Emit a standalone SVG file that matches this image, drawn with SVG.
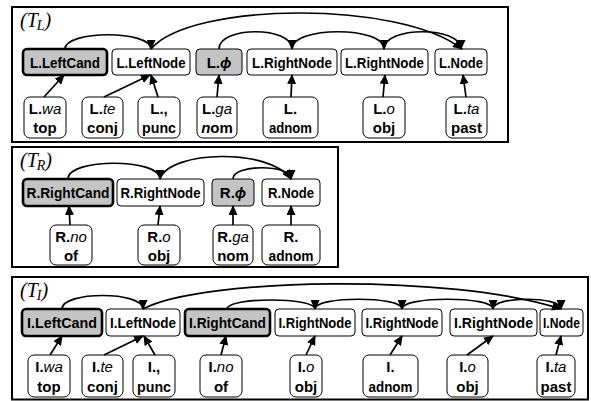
<svg xmlns="http://www.w3.org/2000/svg" width="591" height="401" viewBox="0 0 591 401">
<defs>
<marker id="ah" markerUnits="userSpaceOnUse" markerWidth="10" markerHeight="9" refX="9" refY="4.5" orient="auto">
<path d="M0,0 L10,4.5 L0,9 z" fill="#000"/>
</marker>
<style>
.frame{fill:#fff;stroke:#000;stroke-width:2}
.n{fill:#fff;stroke:#000;stroke-width:1}
.g{fill:#c4c4c4;stroke:#000;stroke-width:1}
.c{fill:#c4c4c4;stroke:#000;stroke-width:2.6}
.leaf{fill:#fff;stroke:#000;stroke-width:1}
.t{font-family:"Liberation Sans",Arial,sans-serif;font-weight:bold;font-size:15px;text-anchor:middle;fill:#000}
.it{font-style:italic;font-weight:normal}
.lab{font-family:"Liberation Serif","Times New Roman",serif;font-style:italic;font-size:20px;fill:#000}
.sub{font-size:14px}
.e{fill:none;stroke:#000;stroke-width:1.7;marker-end:url(#ah)}
</style>
</defs>

<rect class="frame" x="12" y="7" width="496" height="135"/>
<rect class="frame" x="12" y="147" width="326" height="120"/>
<rect class="frame" x="12" y="277" width="576" height="122.5"/>

<text class="lab" x="20" y="27">(T<tspan class="sub" dy="3" dx="-1">L</tspan><tspan dy="-3">)</tspan></text>
<text class="lab" x="20" y="167">(T<tspan class="sub" dy="3" dx="-1">R</tspan><tspan dy="-3">)</tspan></text>
<text class="lab" x="20" y="297">(T<tspan class="sub" dy="3" dx="-1">I</tspan><tspan dy="-3">)</tspan></text>

<!-- TL nodes -->
<g id="L_LeftCand"><rect class="c" x="23" y="49" width="84" height="26" rx="4"/><text class="t" x="65" y="67.5" textLength="70" lengthAdjust="spacingAndGlyphs">L.LeftCand</text></g>
<g id="L_LeftNode"><rect class="n" x="112" y="49" width="78" height="26" rx="4"/><text class="t" x="151" y="67.5" textLength="69" lengthAdjust="spacingAndGlyphs">L.LeftNode</text></g>
<g id="L_phi"><rect class="g" x="196" y="49" width="46" height="26" rx="4"/><text class="t" x="219" y="67.5">L.<tspan font-style="italic">ϕ</tspan></text></g>
<g id="L_RightNode1"><rect class="n" x="247" y="49" width="90" height="26" rx="4"/><text class="t" x="292" y="67.5" textLength="80" lengthAdjust="spacingAndGlyphs">L.RightNode</text></g>
<g id="L_RightNode2"><rect class="n" x="341" y="49" width="87" height="26" rx="4"/><text class="t" x="384.5" y="67.5" textLength="79" lengthAdjust="spacingAndGlyphs">L.RightNode</text></g>
<g id="L_Node"><rect class="n" x="435" y="49" width="52" height="26" rx="4"/><text class="t" x="461" y="67.5" textLength="44" lengthAdjust="spacingAndGlyphs">L.Node</text></g>

<g id="L_wa"><rect class="leaf" x="24" y="97" width="42" height="41" rx="6"/><text class="t" x="45" y="114">L.<tspan class="it">wa</tspan></text><text class="t" x="45" y="133">top</text></g>
<g id="L_te"><rect class="leaf" x="82" y="97" width="41" height="41" rx="6"/><text class="t" x="102.5" y="114">L.<tspan class="it">te</tspan></text><text class="t" x="102.5" y="133">conj</text></g>
<g id="L_comma"><rect class="leaf" x="138" y="97" width="42" height="41" rx="6"/><text class="t" x="159" y="114">L.,</text><text class="t" x="159" y="133" textLength="34" lengthAdjust="spacingAndGlyphs">punc</text></g>
<g id="L_ga"><rect class="leaf" x="197" y="97" width="40" height="41" rx="6"/><text class="t" x="217" y="114">L.<tspan class="it">ga</tspan></text><text class="t" x="217" y="133"><tspan font-style="italic">n</tspan>om</text></g>
<g id="L_adnom"><rect class="leaf" x="263" y="97" width="55" height="41" rx="6"/><text class="t" x="290.5" y="114">L.</text><text class="t" x="290.5" y="133" textLength="43" lengthAdjust="spacingAndGlyphs">adnom</text></g>
<g id="L_o"><rect class="leaf" x="363" y="97" width="42" height="41" rx="6"/><text class="t" x="384" y="114">L.<tspan class="it">o</tspan></text><text class="t" x="384" y="133">obj</text></g>
<g id="L_ta"><rect class="leaf" x="446" y="97" width="41" height="41" rx="6"/><text class="t" x="466.5" y="114">L.<tspan class="it">ta</tspan></text><text class="t" x="466.5" y="133">past</text></g>

<!-- TR nodes -->
<g id="R_RightCand"><rect class="c" x="23" y="179" width="90" height="27" rx="4"/><text class="t" x="68" y="198" textLength="83" lengthAdjust="spacingAndGlyphs">R.RightCand</text></g>
<g id="R_RightNode"><rect class="n" x="117" y="179" width="87" height="27" rx="4"/><text class="t" x="160.5" y="198" textLength="80" lengthAdjust="spacingAndGlyphs">R.RightNode</text></g>
<g id="R_phi"><rect class="g" x="212" y="179" width="42" height="27" rx="4"/><text class="t" x="233" y="198">R.<tspan font-style="italic">ϕ</tspan></text></g>
<g id="R_Node"><rect class="n" x="262" y="179" width="58" height="27" rx="4"/><text class="t" x="291" y="198" textLength="46" lengthAdjust="spacingAndGlyphs">R.Node</text></g>

<g id="R_no"><rect class="leaf" x="50" y="225" width="42" height="40" rx="6"/><text class="t" x="71" y="242">R.<tspan class="it">no</tspan></text><text class="t" x="71" y="261">of</text></g>
<g id="R_o"><rect class="leaf" x="138" y="225" width="42" height="40" rx="6"/><text class="t" x="159" y="242">R.<tspan class="it">o</tspan></text><text class="t" x="159" y="261">obj</text></g>
<g id="R_ga"><rect class="leaf" x="213" y="225" width="40" height="40" rx="6"/><text class="t" x="233" y="242">R.<tspan class="it">ga</tspan></text><text class="t" x="233" y="261">nom</text></g>
<g id="R_adnom"><rect class="leaf" x="262" y="225" width="58" height="40" rx="6"/><text class="t" x="291" y="242">R.</text><text class="t" x="291" y="261" textLength="45" lengthAdjust="spacingAndGlyphs">adnom</text></g>

<!-- TI nodes -->
<g id="I_LeftCand"><rect class="c" x="22" y="309" width="80" height="27" rx="4"/><text class="t" x="62" y="328" textLength="70" lengthAdjust="spacingAndGlyphs">I.LeftCand</text></g>
<g id="I_LeftNode"><rect class="n" x="106" y="309" width="74" height="27" rx="4"/><text class="t" x="143" y="328" textLength="66" lengthAdjust="spacingAndGlyphs">I.LeftNode</text></g>
<g id="I_RightCand"><rect class="c" x="185" y="309" width="85" height="27" rx="4"/><text class="t" x="227.5" y="328" textLength="77" lengthAdjust="spacingAndGlyphs">I.RightCand</text></g>
<g id="I_RightNode1"><rect class="n" x="275" y="309" width="80" height="27" rx="4"/><text class="t" x="315" y="328" textLength="73" lengthAdjust="spacingAndGlyphs">I.RightNode</text></g>
<g id="I_RightNode2"><rect class="n" x="362" y="309" width="80" height="27" rx="4"/><text class="t" x="402" y="328" textLength="73" lengthAdjust="spacingAndGlyphs">I.RightNode</text></g>
<g id="I_RightNode3"><rect class="n" x="450" y="309" width="87" height="27" rx="4"/><text class="t" x="493.5" y="328" textLength="79" lengthAdjust="spacingAndGlyphs">I.RightNode</text></g>
<g id="I_Node"><rect class="n" x="540" y="309" width="43" height="27" rx="4"/><text class="t" x="561.5" y="328" textLength="37" lengthAdjust="spacingAndGlyphs">I.Node</text></g>

<g id="I_wa"><rect class="leaf" x="28" y="355" width="42" height="42" rx="6"/><text class="t" x="49" y="372">I.<tspan class="it">wa</tspan></text><text class="t" x="49" y="392">top</text></g>
<g id="I_te"><rect class="leaf" x="82" y="355" width="41" height="42" rx="6"/><text class="t" x="102.5" y="372">I.<tspan class="it">te</tspan></text><text class="t" x="102.5" y="392">conj</text></g>
<g id="I_comma"><rect class="leaf" x="133" y="355" width="42" height="42" rx="6"/><text class="t" x="154" y="372">I.,</text><text class="t" x="154" y="392" textLength="34" lengthAdjust="spacingAndGlyphs">punc</text></g>
<g id="I_no"><rect class="leaf" x="200" y="355" width="42" height="42" rx="6"/><text class="t" x="221" y="372">I.<tspan class="it">no</tspan></text><text class="t" x="221" y="392">of</text></g>
<g id="I_o1"><rect class="leaf" x="290" y="355" width="32" height="42" rx="6"/><text class="t" x="306" y="372">I.<tspan class="it">o</tspan></text><text class="t" x="306" y="392">obj</text></g>
<g id="I_adnom"><rect class="leaf" x="363" y="355" width="55" height="42" rx="6"/><text class="t" x="390.5" y="372">I.</text><text class="t" x="390.5" y="392" textLength="44" lengthAdjust="spacingAndGlyphs">adnom</text></g>
<g id="I_o2"><rect class="leaf" x="447" y="355" width="41" height="42" rx="6"/><text class="t" x="467.5" y="372">I.<tspan class="it">o</tspan></text><text class="t" x="467.5" y="392">obj</text></g>
<g id="I_ta"><rect class="leaf" x="537" y="355" width="38" height="42" rx="6"/><text class="t" x="556" y="372">I.<tspan class="it">ta</tspan></text><text class="t" x="556" y="392">past</text></g>

<g id="connectors">
<!-- TL -->
<path class="e" d="M44,97 L64,75"/>
<path class="e" d="M104,97 L150,75"/>
<path class="e" d="M158,97 L151,75"/>
<path class="e" d="M217,97 L219,75"/>
<path class="e" d="M291,97 L292,75"/>
<path class="e" d="M383,97 L385,75"/>
<path class="e" d="M466,97 L463,75"/>
<path class="e" d="M65,49 C65,30 151,30 151,49"/>
<path class="e" d="M151,49 C190,2 400,0 462,49"/>
<path class="e" d="M219,49 C219,26 292,26 292,49"/>
<path class="e" d="M292,49 C292,26 384,26 384,49"/>
<path class="e" d="M384,49 C384,26 461,26 461,49"/>
<!-- TR -->
<path class="e" d="M70,225 L69,206"/>
<path class="e" d="M158,225 L160,206"/>
<path class="e" d="M233,225 L233,206"/>
<path class="e" d="M291,225 L291,206"/>
<path class="e" d="M68,179 C68,158 160,158 160,179"/>
<path class="e" d="M160,179 C170,150 270,148 291,179"/>
<path class="e" d="M233,179 C233,164 291,164 291,179"/>
<!-- TI -->
<path class="e" d="M50,355 L62,336"/>
<path class="e" d="M104,355 L143,336"/>
<path class="e" d="M155,355 L144,336"/>
<path class="e" d="M221,355 L226,336"/>
<path class="e" d="M306,355 L315,336"/>
<path class="e" d="M390,355 L402,336"/>
<path class="e" d="M467,355 L493,336"/>
<path class="e" d="M556,355 L561,336"/>
<path class="e" d="M62,309 C62,291 143,291 143,309"/>
<path class="e" d="M143,309 C200,278 450,273 561,309"/>
<path class="e" d="M227,309 C227,297 315,297 315,309"/>
<path class="e" d="M315,309 C315,296 402,296 402,309"/>
<path class="e" d="M402,309 C402,296 493,296 493,309"/>
<path class="e" d="M493,309 C493,296 561,296 561,309"/>
</g>
</svg>
